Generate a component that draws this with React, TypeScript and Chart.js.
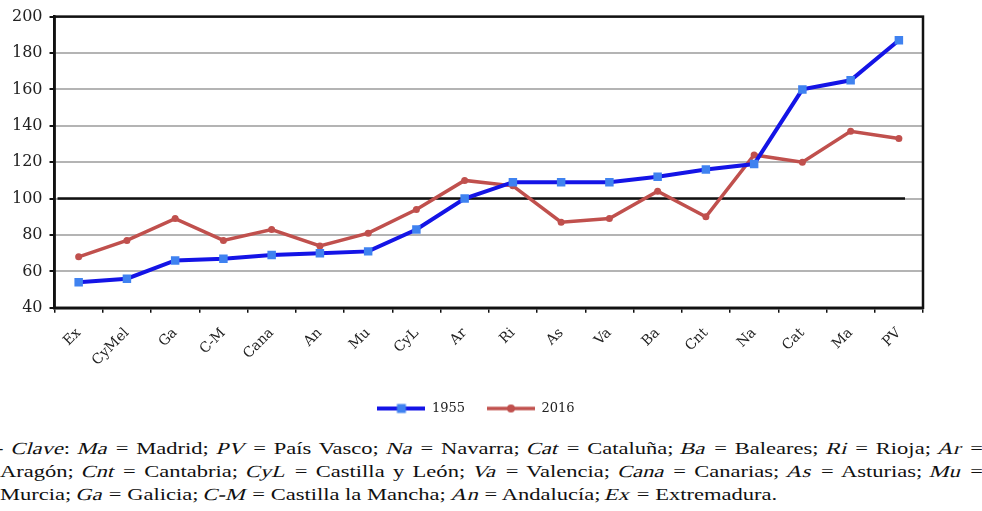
import React, { useEffect, useRef } from "react";
import { Chart, registerables } from "chart.js";

Chart.register(...registerables);

const categories = ["Ex", "CyMel", "Ga", "C-M", "Cana", "An", "Mu", "CyL", "Ar", "Ri", "As", "Va", "Ba", "Cnt", "Na", "Cat", "Ma", "PV"];
const values1955 = [54, 56, 66, 67, 69, 70, 71, 83, 100, 109, 109, 109, 112, 116, 119, 160, 165, 187];
const values2016 = [68, 77, 89, 77, 83, 74, 81, 94, 110, 107, 87, 89, 104, 90, 124, 120, 137, 133];
const seriesNames = ["1955", "2016"];
const yMin = 40;
const yMax = 200;
const yStep = 20;
const referenceValue = 100;

const BLUE_LINE = "#1414e6";
const BLUE_MARK = "#3f82f0";
const RED = "#c0504d";
const TICK_FONT = "'DejaVu Serif', serif";
const NOTE_FONT = "'Liberation Serif', 'Times New Roman', serif";

function legendIcon(kind: "blue" | "red"): HTMLCanvasElement {
  const c = document.createElement("canvas");
  c.width = 48;
  c.height = 12;
  const ctx = c.getContext("2d")!;
  ctx.lineCap = "butt";
  if (kind === "blue") {
    ctx.strokeStyle = BLUE_LINE;
    ctx.lineWidth = 4;
    ctx.beginPath();
    ctx.moveTo(0, 6);
    ctx.lineTo(48, 6);
    ctx.stroke();
    ctx.fillStyle = BLUE_MARK;
    ctx.fillRect(19.5, 1.5, 9, 9);
  } else {
    ctx.strokeStyle = RED;
    ctx.lineWidth = 3.5;
    ctx.beginPath();
    ctx.moveTo(0, 6);
    ctx.lineTo(48, 6);
    ctx.stroke();
    ctx.fillStyle = RED;
    ctx.beginPath();
    ctx.arc(24, 6, 4, 0, Math.PI * 2);
    ctx.fill();
  }
  return c;
}

const framePlugin = {
  id: "frameAndReference",
  afterLayout(chart: any) {
    const l = chart.legend;
    if (l) {
      l.left += 12;
      l.right += 12;
    }
  },
  beforeDatasetsDraw(chart: any) {
    const { ctx, chartArea } = chart;
    const y = chart.scales.y.getPixelForValue(referenceValue);
    ctx.save();
    ctx.strokeStyle = "#111";
    ctx.lineWidth = 2.5;
    ctx.beginPath();
    ctx.moveTo(chartArea.left + 3, y);
    ctx.lineTo(chartArea.right - 18, y);
    ctx.stroke();
    ctx.restore();
  },
  afterDraw(chart: any) {
    const { ctx, chartArea } = chart;
    ctx.save();
    ctx.strokeStyle = "#111";
    ctx.lineWidth = 2.5;
    ctx.strokeRect(chartArea.left, chartArea.top, chartArea.right - chartArea.left, chartArea.bottom - chartArea.top);
    ctx.restore();
  },
};

function ChartView() {
  const ref = useRef<HTMLCanvasElement | null>(null);
  useEffect(() => {
    if (!ref.current) return;
    const icons = [legendIcon("blue"), legendIcon("red")];
    const chart = new Chart(ref.current, {
      type: "line",
      data: {
        labels: categories,
        datasets: [
          {
            label: seriesNames[0],
            data: values1955,
            borderColor: BLUE_LINE,
            backgroundColor: BLUE_MARK,
            borderWidth: 4,
            pointStyle: "rect",
            pointRadius: 6,
            pointBorderWidth: 0,
            pointBackgroundColor: BLUE_MARK,
            tension: 0,
          },
          {
            label: seriesNames[1],
            data: values2016,
            borderColor: RED,
            backgroundColor: RED,
            borderWidth: 3.5,
            pointStyle: "circle",
            pointRadius: 3.5,
            pointBorderWidth: 0,
            pointBackgroundColor: RED,
            tension: 0,
          },
        ],
      },
      options: {
        animation: false,
        responsive: false,
        maintainAspectRatio: false,
        layout: { padding: { left: 5, right: 59, top: 5, bottom: 0 } },
        plugins: {
          tooltip: { enabled: false },
          legend: {
            position: "bottom",
            labels: {
              usePointStyle: true,
              pointStyleWidth: 48,
              padding: 22,
              color: "#222",
              font: { family: TICK_FONT, size: 13 },
              generateLabels: (c: any) =>
                c.data.datasets.map((d: any, i: number) => ({
                  text: d.label,
                  pointStyle: icons[i],
                  fillStyle: "transparent",
                  strokeStyle: "transparent",
                  lineWidth: 0,
                  datasetIndex: i,
                  hidden: false,
                  fontColor: "#222",
                })),
            },
          },
        },
        scales: {
          x: {
            offset: true,
            afterFit: (scale: any) => {
              scale.height -= 1;
            },
            grid: {
              display: true,
              offset: true,
              drawOnChartArea: false,
              drawTicks: true,
              tickLength: 5,
              color: "#111",
              tickColor: "#111",
              lineWidth: 1.5,
            },
            border: { display: true, color: "#111", width: 2.5 },
            ticks: {
              autoSkip: false,
              maxRotation: 45,
              minRotation: 45,
              padding: 12,
              color: "#222",
              font: { family: TICK_FONT, size: 14 },
            },
          },
          y: {
            min: yMin,
            max: yMax,
            ticks: {
              stepSize: yStep,
              padding: 7,
              color: "#222",
              font: { family: TICK_FONT, size: 16 },
            },
            grid: {
              color: "#b4b4b4",
              lineWidth: 2,
              tickLength: 5,
              tickColor: "#111",
            },
            border: { display: true, color: "#111", width: 2.5 },
          },
        },
      },
      plugins: [framePlugin],
    });
    return () => chart.destroy();
  }, []);
  return <canvas ref={ref} width={982} height={425} style={{ display: "block", width: 982, height: 425 }} />;
}

const SCALE_X = 1.325;

const noteStyle: React.CSSProperties = {
  fontFamily: NOTE_FONT,
  fontSize: 17,
  lineHeight: "23px",
  color: "#111",
  whiteSpace: "nowrap",
};

function I({ children }: { children: React.ReactNode }) {
  return (
    <span style={{ display: "inline-block", transform: "skewX(-13deg)", fontStyle: "normal" }}>{children}</span>
  );
}

export default function App() {
  return (
    <div style={{ position: "fixed", left: 0, top: 0, width: 982, height: 511, background: "#fff", overflow: "hidden" }}>
      <div style={{ position: "absolute", left: 0, top: 0 }}>
        <ChartView />
      </div>
      <div
        style={{
          position: "absolute",
          left: -4,
          top: 437,
          width: 987 / SCALE_X,
          transform: `scaleX(${SCALE_X})`,
          transformOrigin: "0 0",
        }}
      >
        <div style={{ ...noteStyle, textAlign: "justify", textAlignLast: "justify" as any }}>
          - <I>Clave</I>: <I>Ma</I> = Madrid; <I>PV</I> = País Vasco; <I>Na</I> = Navarra; <I>Cat</I> = Cataluña; <I>Ba</I> = Baleares; <I>Ri</I> = Rioja; <I>Ar</I> =
        </div>
        <div style={{ ...noteStyle, paddingLeft: 3, textAlign: "justify", textAlignLast: "justify" as any }}>
          Aragón; <I>Cnt</I> = Cantabria; <I>CyL</I> = Castilla y León; <I>Va</I> = Valencia; <I>Cana</I> = Canarias; <I>As</I> = Asturias; <I>Mu</I> =
        </div>
        <div style={{ ...noteStyle, paddingLeft: 3 }}>
          Murcia; <I>Ga</I> = Galicia; <I>C-M</I> = Castilla la Mancha; <I>An</I> = Andalucía; <I>Ex</I> = Extremadura.
        </div>
      </div>
    </div>
  );
}
